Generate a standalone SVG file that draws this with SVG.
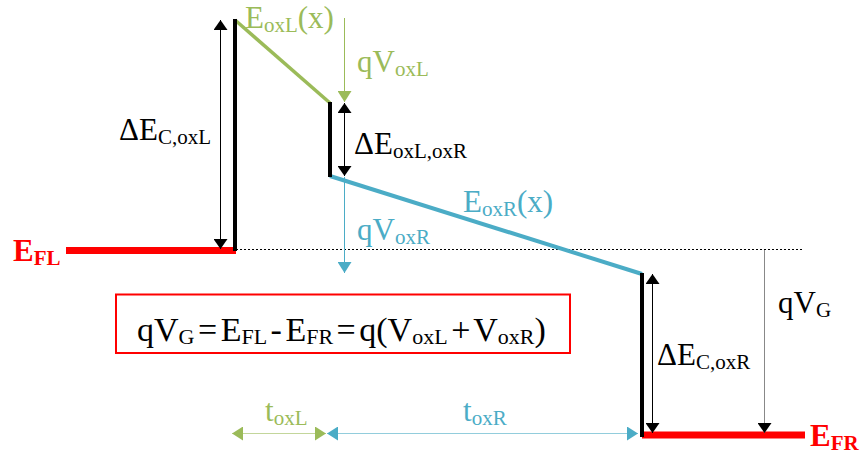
<svg xmlns="http://www.w3.org/2000/svg" width="861" height="459" viewBox="0 0 861 459">
<style>
text{font-family:"Liberation Serif","Times New Roman",serif;font-size:31px}
.s{font-size:21px}
.k{fill:#000}
.g{fill:#9BBB59}
.b{fill:#4BACC6}
.r{fill:#FF0000;font-weight:bold}
.band{stroke:#000;stroke-width:4;fill:none}
.thin{stroke-width:1;fill:none}
.eq{font-size:34px;word-spacing:-5px}
.es{font-size:22px}
</style>
<defs>
<marker id="ak" viewBox="0 0 10 14" refX="10" refY="7" markerWidth="10" markerHeight="14" markerUnits="userSpaceOnUse" orient="auto-start-reverse"><path d="M0,0L10,7L0,14z" fill="#000"/></marker>
<marker id="ag" viewBox="0 0 11 14" refX="11" refY="7" markerWidth="11" markerHeight="14" markerUnits="userSpaceOnUse" orient="auto-start-reverse"><path d="M0,0L11,7L0,14z" fill="#9BBB59"/></marker>
<marker id="ab" viewBox="0 0 11 14" refX="11" refY="7" markerWidth="11" markerHeight="14" markerUnits="userSpaceOnUse" orient="auto-start-reverse"><path d="M0,0L11,7L0,14z" fill="#4BACC6"/></marker>
</defs>
<rect width="861" height="459" fill="#fff"/>
<g id="bands">
<line x1="236" y1="249.5" x2="803" y2="249.5" stroke="#000" stroke-width="1" stroke-dasharray="2,2"/>
<line x1="66" y1="250.5" x2="236" y2="250.5" stroke="#FF0000" stroke-width="7"/>
<line x1="642" y1="435" x2="805" y2="435" stroke="#FF0000" stroke-width="7"/>
<line x1="235" y1="20" x2="330" y2="103" stroke="#9BBB59" stroke-width="3.5"/>
<line x1="330" y1="176" x2="642" y2="274" stroke="#4BACC6" stroke-width="4"/>
<line class="band" x1="235" y1="19" x2="235" y2="251"/>
<line class="band" x1="330" y1="102" x2="330" y2="177"/>
<line class="band" x1="642" y1="273" x2="642" y2="437"/>
</g>
<g id="connectors">
<line class="thin" x1="220.5" y1="20" x2="220.5" y2="249" stroke="#000" marker-start="url(#ak)" marker-end="url(#ak)"/>
<line class="thin" x1="344.5" y1="103" x2="344.5" y2="176" stroke="#000" marker-start="url(#ak)" marker-end="url(#ak)"/>
<line class="thin" x1="652.5" y1="274" x2="652.5" y2="433" stroke="#000" marker-start="url(#ak)" marker-end="url(#ak)"/>
<line class="thin" x1="764.5" y1="250" x2="764.5" y2="433" stroke="#888" marker-end="url(#ak)"/>
<line class="thin" x1="344.5" y1="18" x2="344.5" y2="102" stroke="#9BBB59" marker-end="url(#ag)"/>
<line class="thin" x1="344.5" y1="177" x2="344.5" y2="273" stroke="#4BACC6" marker-end="url(#ab)"/>
<line class="thin" x1="232" y1="433.5" x2="326" y2="433.5" stroke="#C3D69B" marker-start="url(#ag)" marker-end="url(#ag)"/>
<line class="thin" x1="327" y1="433.5" x2="638" y2="433.5" stroke="#92CDDC" marker-start="url(#ab)" marker-end="url(#ab)"/>
</g>
<g id="labels">
<text class="g" x="245" y="28">E<tspan class="s" dy="4">oxL</tspan><tspan dy="-4">(x)</tspan></text>
<text class="g" x="357" y="72">qV<tspan class="s" dy="4">oxL</tspan></text>
<text class="k" x="119" y="140">ΔE<tspan class="s" dy="4">C,oxL</tspan></text>
<text class="k" x="354" y="154">ΔE<tspan class="s" dy="4">oxL,oxR</tspan></text>
<text class="b" x="463" y="212">E<tspan class="s" dy="4">oxR</tspan><tspan dy="-4">(x)</tspan></text>
<text class="b" x="357" y="240">qV<tspan class="s" dy="4">oxR</tspan></text>
<text class="r" x="13" y="261">E<tspan class="s" dy="4">FL</tspan></text>
<text class="k" x="778" y="313">qV<tspan class="s" dy="4">G</tspan></text>
<text class="k" x="657" y="365">ΔE<tspan class="s" dy="4">C,oxR</tspan></text>
<text class="r" x="810" y="446">E<tspan class="s" dy="4">FR</tspan></text>
<text class="g" x="265" y="421">t<tspan class="s" dy="4">oxL</tspan></text>
<text class="b" x="463" y="421">t<tspan class="s" dy="4">oxR</tspan></text>
</g>
<g id="equation">
<rect x="116" y="294.5" width="454" height="58.5" fill="#fff" stroke="#FF0000" stroke-width="2"/>
<text class="k eq" x="137" y="341">qV<tspan class="es" dy="3">G</tspan><tspan dy="-3"> = E</tspan><tspan class="es" dy="3">FL</tspan><tspan dy="-3"> - E</tspan><tspan class="es" dy="3">FR</tspan><tspan dy="-3"> = q(V</tspan><tspan class="es" dy="3">oxL</tspan><tspan dy="-3"> + V</tspan><tspan class="es" dy="3">oxR</tspan><tspan dy="-3">)</tspan></text>
</g>
</svg>
